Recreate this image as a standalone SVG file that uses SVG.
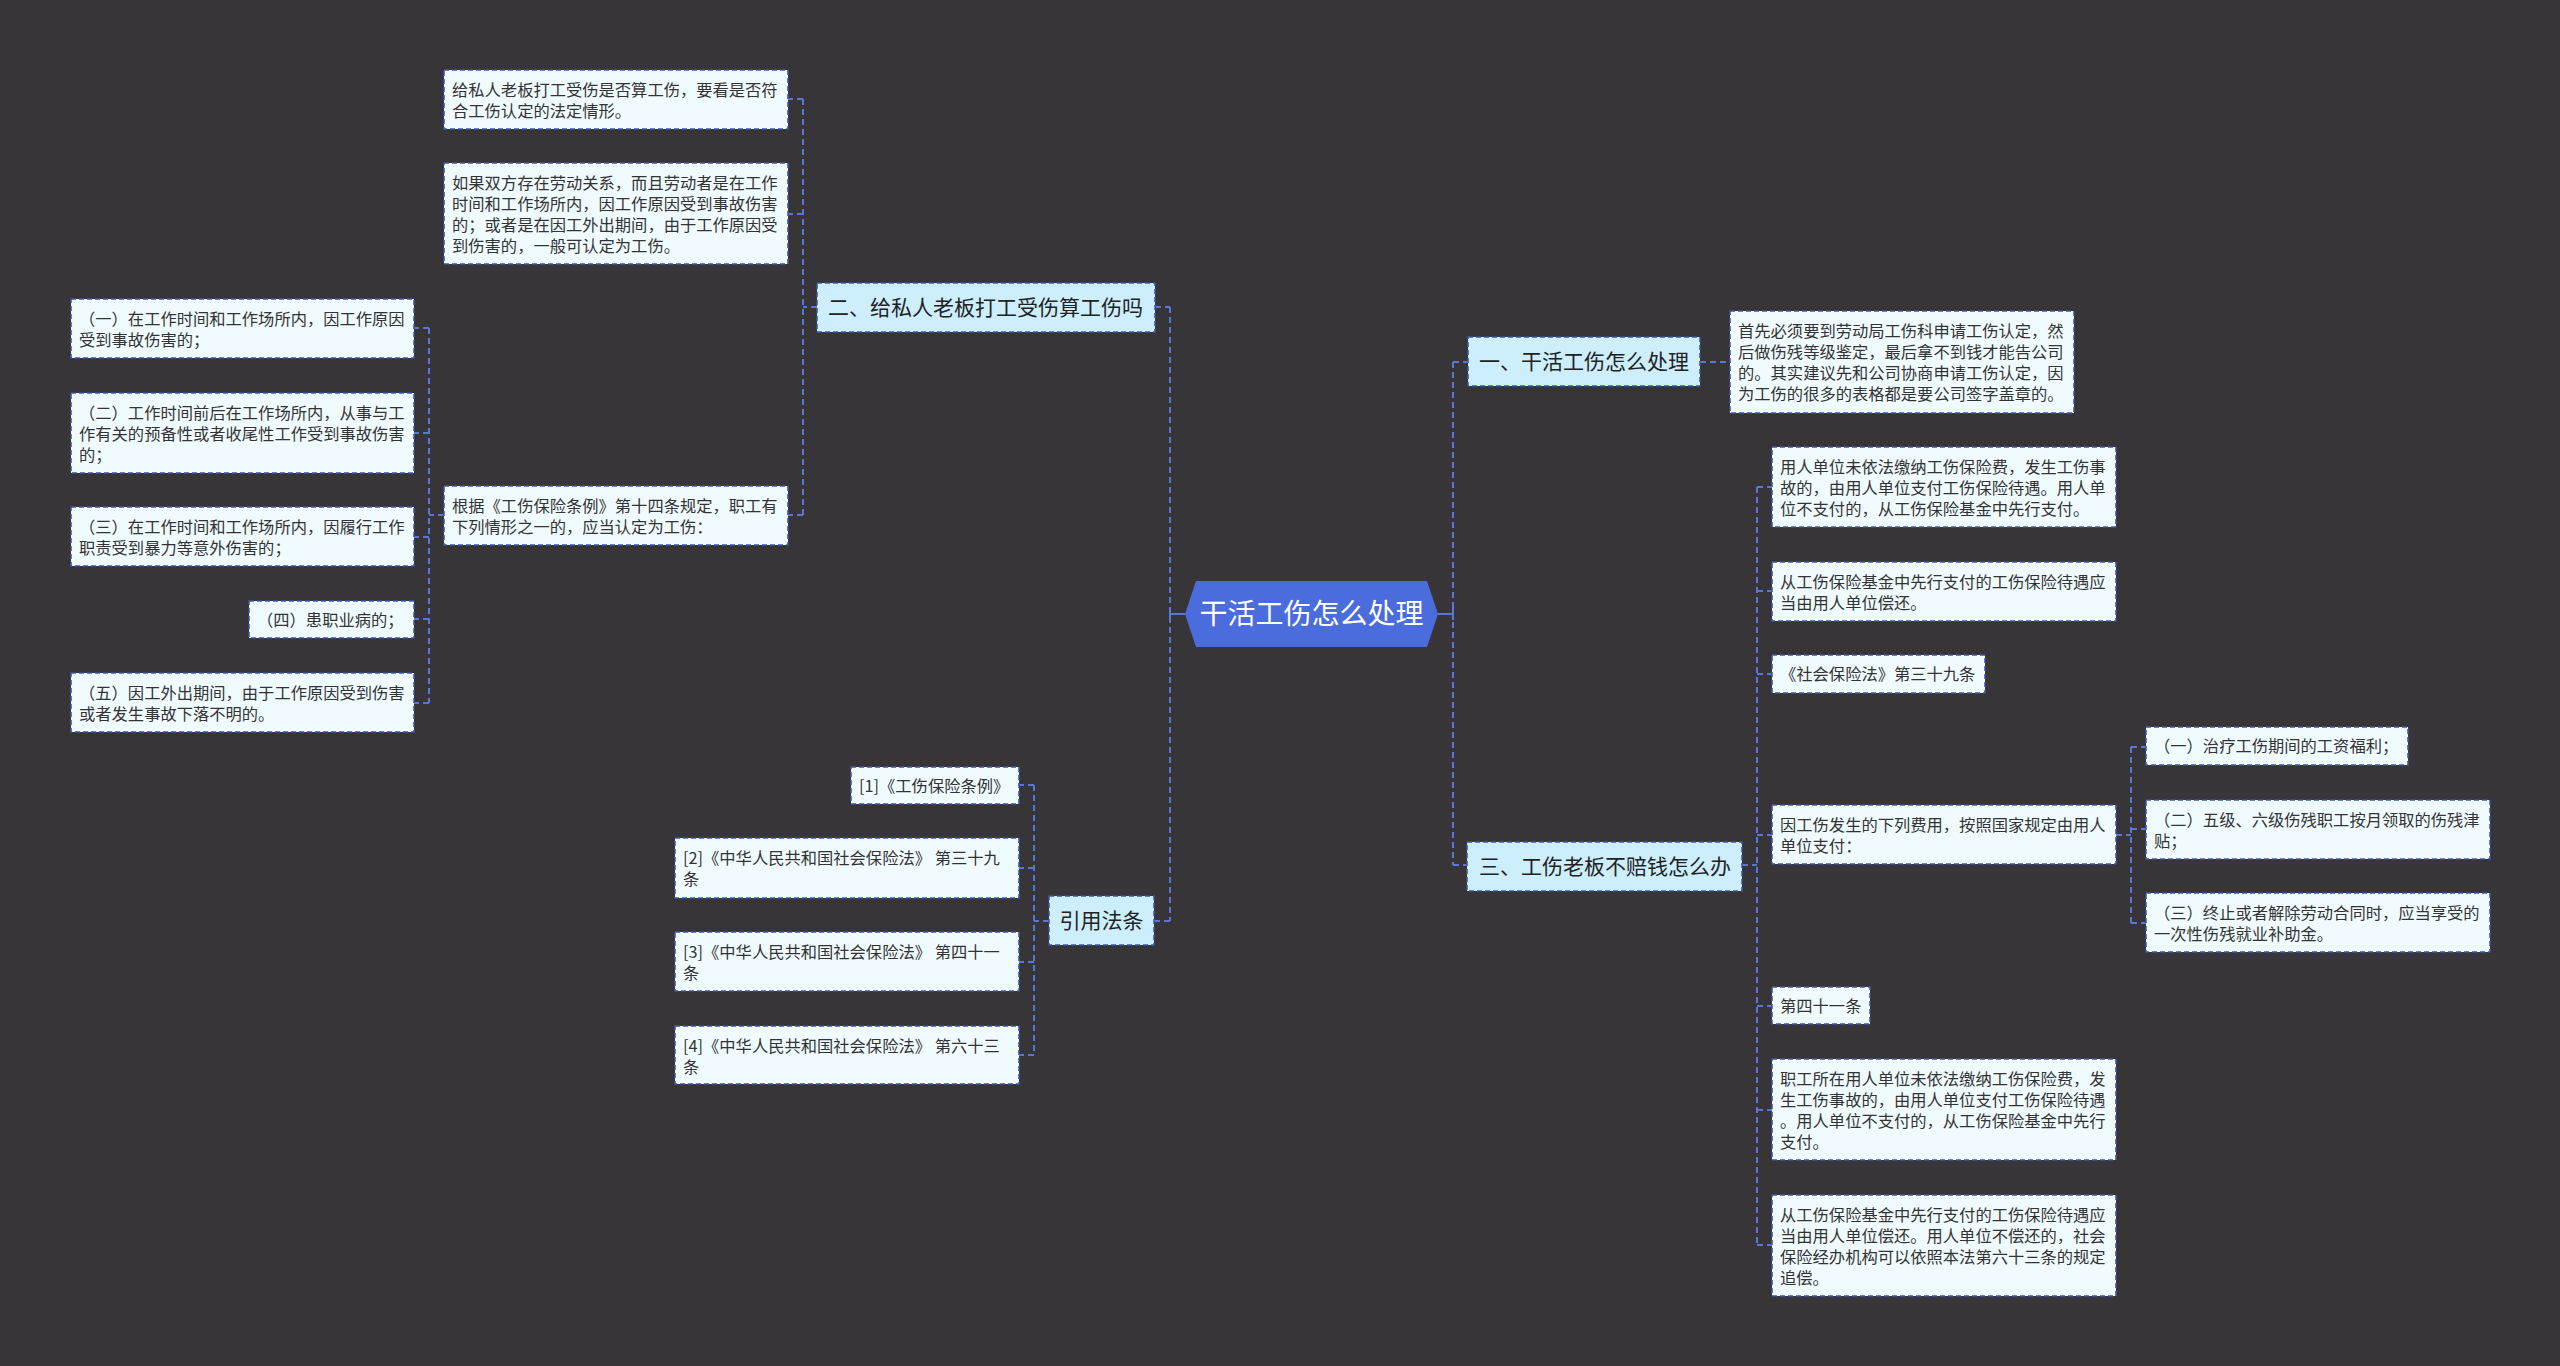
<svg xmlns="http://www.w3.org/2000/svg" width="2560" height="1366" viewBox="0 0 2560 1366">
<style>
.bg{fill:#373537}
.ln{fill:none;stroke:#5877d6;stroke-width:2;stroke-dasharray:6 4}
.sl{fill:none;stroke:#5877d6;stroke-width:2}
.box{fill:#f0fbff;stroke:#3c55a8;stroke-width:1.6;stroke-dasharray:5 3}
.br{fill:#cdeefd;stroke:#3c55a8;stroke-width:1.6;stroke-dasharray:5 3}
.t{font-family:"Noto Sans CJK SC","Noto Sans",sans-serif;font-size:16.3px;fill:#333}
.bt{font-family:"Noto Sans CJK SC","Noto Sans",sans-serif;font-size:21px;fill:#222}
.rt{font-family:"Noto Sans CJK SC","Noto Sans",sans-serif;font-size:28px;fill:#ffffff}
</style>
<rect class="bg" x="0" y="0" width="2560" height="1366"/>
<g id="connectors">
<path class="sl" d="M1170 614H1185M1170 608V620M1438 614H1453M1453 608V620"/>
<path class="ln" d="M1170 307V921M1155 307H1170M1154 921H1170"/>
<path class="ln" d="M1453 362V865M1453 362H1468M1453 865H1467"/>
<path class="ln" d="M1700 362H1730"/>
<path class="ln" d="M1742 865H1757M1757 487V1245M1757 487H1772M1757 591H1772M1757 674H1772M1757 835H1772M1757 1006H1772M1757 1110H1772M1757 1245H1772"/>
<path class="ln" d="M2116 835H2131M2131 747V923M2131 747H2146M2131 829H2146M2131 923H2146"/>
<path class="ln" d="M817 307H803M803 99V515M803 99H788M803 214H788M803 515H788"/>
<path class="ln" d="M444 515H429M429 328V703M429 328H414M429 433H414M429 537H414M429 619H414M429 703H414"/>
<path class="ln" d="M1049 921H1034M1034 785V1055M1034 785H1019M1034 868H1019M1034 962H1019M1034 1055H1019"/>
</g>
<g id="root">
<polygon points="1185,614 1196,581 1427,581 1438,614 1427,647 1196,647" fill="#4a6cdc"/>
<text class="rt" x="1311.5" y="624" text-anchor="middle">干活工伤怎么处理</text>
</g>
<g id="b2">
<rect class="br" x="817" y="283" width="338" height="49"/>
<text class="bt" x="828" y="315">二、给私人老板打工受伤算工伤吗</text>
</g>
<g id="b2c1">
<rect class="box" x="444" y="70" width="344" height="59"/>
<text class="t" x="452" y="95.5"><tspan x="452">给私人老板打工受伤是否算工伤，要看是否符</tspan><tspan x="452" dy="21.2">合工伤认定的法定情形。</tspan></text>
</g>
<g id="b2c2">
<rect class="box" x="444" y="163" width="344" height="101"/>
<text class="t" x="452" y="188.5"><tspan x="452">如果双方存在劳动关系，而且劳动者是在工作</tspan><tspan x="452" dy="21.2">时间和工作场所内，因工作原因受到事故伤害</tspan><tspan x="452" dy="21.2">的；或者是在因工外出期间，由于工作原因受</tspan><tspan x="452" dy="21.2">到伤害的，一般可认定为工伤。</tspan></text>
</g>
<g id="b2c3">
<rect class="box" x="444" y="486" width="344" height="59"/>
<text class="t" x="452" y="511.5"><tspan x="452">根据《工伤保险条例》第十四条规定，职工有</tspan><tspan x="452" dy="21.2">下列情形之一的，应当认定为工伤：</tspan></text>
</g>
<g id="b2c3a">
<rect class="box" x="71" y="299" width="343" height="59"/>
<text class="t" x="79" y="324.5"><tspan x="79">（一）在工作时间和工作场所内，因工作原因</tspan><tspan x="79" dy="21.2">受到事故伤害的；</tspan></text>
</g>
<g id="b2c3b">
<rect class="box" x="71" y="393" width="343" height="80"/>
<text class="t" x="79" y="418.5"><tspan x="79">（二）工作时间前后在工作场所内，从事与工</tspan><tspan x="79" dy="21.2">作有关的预备性或者收尾性工作受到事故伤害</tspan><tspan x="79" dy="21.2">的；</tspan></text>
</g>
<g id="b2c3c">
<rect class="box" x="71" y="507" width="343" height="59"/>
<text class="t" x="79" y="532.5"><tspan x="79">（三）在工作时间和工作场所内，因履行工作</tspan><tspan x="79" dy="21.2">职责受到暴力等意外伤害的；</tspan></text>
</g>
<g id="b2c3d">
<rect class="box" x="249" y="601" width="165" height="37"/>
<text class="t" x="257" y="625.5">（四）患职业病的；</text>
</g>
<g id="b2c3e">
<rect class="box" x="71" y="673" width="343" height="59"/>
<text class="t" x="79" y="698.5"><tspan x="79">（五）因工外出期间，由于工作原因受到伤害</tspan><tspan x="79" dy="21.2">或者发生事故下落不明的。</tspan></text>
</g>
<g id="ref">
<rect class="br" x="1049" y="896" width="105" height="49"/>
<text class="bt" x="1101.5" y="928" text-anchor="middle">引用法条</text>
</g>
<g id="ref1">
<rect class="box" x="851" y="767" width="168" height="37"/>
<text class="t" x="859" y="791.5">[1]《工伤保险条例》</text>
</g>
<g id="ref2">
<rect class="box" x="675" y="838" width="344" height="60"/>
<text class="t" x="683" y="863.5"><tspan x="683">[2]《中华人民共和国社会保险法》 第三十九</tspan><tspan x="683" dy="21.2">条</tspan></text>
</g>
<g id="ref3">
<rect class="box" x="675" y="932" width="344" height="59"/>
<text class="t" x="683" y="957.5"><tspan x="683">[3]《中华人民共和国社会保险法》 第四十一</tspan><tspan x="683" dy="21.2">条</tspan></text>
</g>
<g id="ref4">
<rect class="box" x="675" y="1026" width="344" height="58"/>
<text class="t" x="683" y="1051.5"><tspan x="683">[4]《中华人民共和国社会保险法》 第六十三</tspan><tspan x="683" dy="21.2">条</tspan></text>
</g>
<g id="b1">
<rect class="br" x="1468" y="337" width="232" height="49"/>
<text class="bt" x="1479" y="369">一、干活工伤怎么处理</text>
</g>
<g id="b1c1">
<rect class="box" x="1730" y="311" width="344" height="102"/>
<text class="t" x="1738" y="336.5"><tspan x="1738">首先必须要到劳动局工伤科申请工伤认定，然</tspan><tspan x="1738" dy="21.2">后做伤残等级鉴定，最后拿不到钱才能告公司</tspan><tspan x="1738" dy="21.2">的。其实建议先和公司协商申请工伤认定，因</tspan><tspan x="1738" dy="21.2">为工伤的很多的表格都是要公司签字盖章的。</tspan></text>
</g>
<g id="b3">
<rect class="br" x="1467" y="842" width="275" height="49"/>
<text class="bt" x="1479" y="874">三、工伤老板不赔钱怎么办</text>
</g>
<g id="b3c1">
<rect class="box" x="1772" y="447" width="344" height="80"/>
<text class="t" x="1780" y="472.5"><tspan x="1780">用人单位未依法缴纳工伤保险费，发生工伤事</tspan><tspan x="1780" dy="21.2">故的，由用人单位支付工伤保险待遇。用人单</tspan><tspan x="1780" dy="21.2">位不支付的，从工伤保险基金中先行支付。</tspan></text>
</g>
<g id="b3c2">
<rect class="box" x="1772" y="562" width="344" height="59"/>
<text class="t" x="1780" y="587.5"><tspan x="1780">从工伤保险基金中先行支付的工伤保险待遇应</tspan><tspan x="1780" dy="21.2">当由用人单位偿还。</tspan></text>
</g>
<g id="b3c3">
<rect class="box" x="1772" y="655" width="213" height="38"/>
<text class="t" x="1780" y="680">《社会保险法》第三十九条</text>
</g>
<g id="b3c4">
<rect class="box" x="1772" y="805" width="344" height="59"/>
<text class="t" x="1780" y="830.5"><tspan x="1780">因工伤发生的下列费用，按照国家规定由用人</tspan><tspan x="1780" dy="21.2">单位支付：</tspan></text>
</g>
<g id="b3c4a">
<rect class="box" x="2146" y="727" width="262" height="38"/>
<text class="t" x="2154" y="752">（一）治疗工伤期间的工资福利；</text>
</g>
<g id="b3c4b">
<rect class="box" x="2146" y="800" width="344" height="59"/>
<text class="t" x="2154" y="825.5"><tspan x="2154">（二）五级、六级伤残职工按月领取的伤残津</tspan><tspan x="2154" dy="21.2">贴；</tspan></text>
</g>
<g id="b3c4c">
<rect class="box" x="2146" y="893" width="344" height="59"/>
<text class="t" x="2154" y="918.5"><tspan x="2154">（三）终止或者解除劳动合同时，应当享受的</tspan><tspan x="2154" dy="21.2">一次性伤残就业补助金。</tspan></text>
</g>
<g id="b3c5">
<rect class="box" x="1772" y="987" width="98" height="37"/>
<text class="t" x="1780" y="1011.5">第四十一条</text>
</g>
<g id="b3c6">
<rect class="box" x="1772" y="1059" width="344" height="101"/>
<text class="t" x="1780" y="1084.5"><tspan x="1780">职工所在用人单位未依法缴纳工伤保险费，发</tspan><tspan x="1780" dy="21.2">生工伤事故的，由用人单位支付工伤保险待遇</tspan><tspan x="1780" dy="21.2">。用人单位不支付的，从工伤保险基金中先行</tspan><tspan x="1780" dy="21.2">支付。</tspan></text>
</g>
<g id="b3c7">
<rect class="box" x="1772" y="1195" width="344" height="101"/>
<text class="t" x="1780" y="1220.5"><tspan x="1780">从工伤保险基金中先行支付的工伤保险待遇应</tspan><tspan x="1780" dy="21.2">当由用人单位偿还。用人单位不偿还的，社会</tspan><tspan x="1780" dy="21.2">保险经办机构可以依照本法第六十三条的规定</tspan><tspan x="1780" dy="21.2">追偿。</tspan></text>
</g>
</svg>
